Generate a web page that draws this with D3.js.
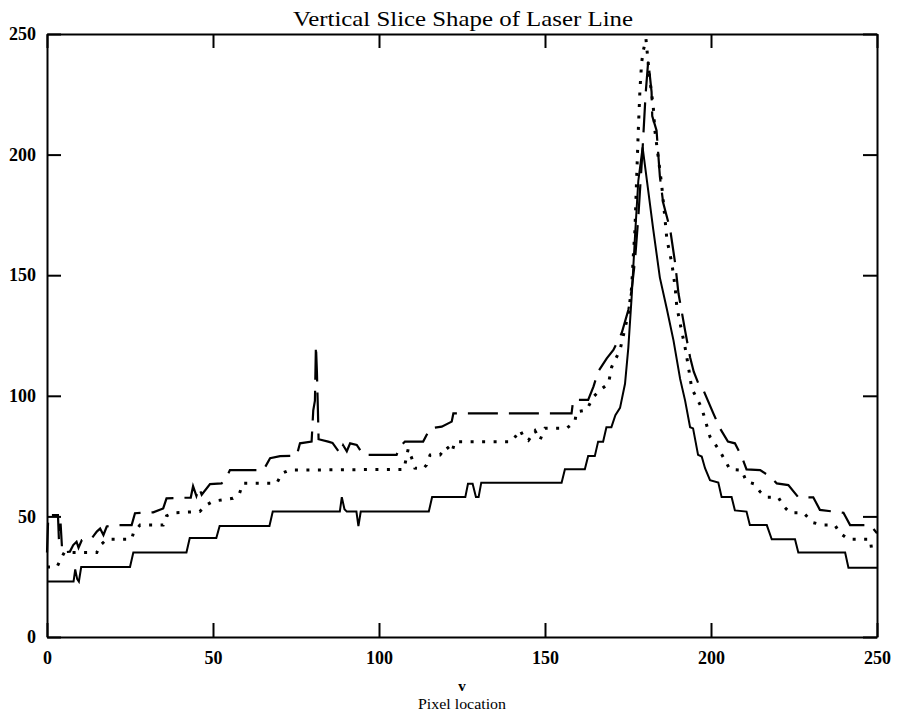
<!DOCTYPE html>
<html>
<head>
<meta charset="utf-8">
<script src="https://cdn.jsdelivr.net/npm/d3@7"></script>
<style>
  html, body { margin: 0; padding: 0; background: #fff; }
  svg { display: block; }
</style>
</head>
<body>
<svg id="chart" width="897" height="721"></svg>
<script>
// ---- data ----
const xTicks = [0, 50, 100, 150, 200, 250];
const yTicks = [0, 50, 100, 150, 200, 250];
const titleText = "Vertical Slice Shape of Laser Line";
const xVarText = "v";
const xLabelText = "Pixel location";

// solid trace: [pixel, intensity]
const solidSeries = [[0,23],[8,23],[8.5,28],[9.1,24],[9.6,23],[10.3,29],[25,29],[26,35],[42,35],[43,41],[51,41],[52,46],[67,46],[68,52],[88.2,52],[88.8,58],[89.6,53],[90.3,52],[93.2,52],[93.8,46],[94.5,52],[115,52],[116,58],[126,58],[126.8,63.5],[128.2,63.5],[129.2,58],[130,58],[130.8,64],[155,64],[156,69.5],[162,69.5],[163,75],[165,75],[166,81],[167.5,81],[168.5,87],[170,87],[171.2,92],[172.6,95],[174.1,105],[175.1,120],[176.1,141],[177.1,166],[178.1,189],[179.4,203],[181.1,185],[182.6,169],[184.6,149],[186.7,136],[188.7,123],[190.7,107],[192.2,98],[193.7,87],[194.6,86.5],[196.1,75.5],[197.2,74.8],[198.2,70],[199.7,65],[202.2,64],[203.2,58],[206.2,58],[207.2,52.5],[210.7,52],[211.7,46.4],[216.8,46.4],[218.3,40.5],[225.3,40.5],[226.3,35],[240.4,35],[241.4,28.7],[250,28.7]];

// dotted trace
const dottedSeries = [[0,29],[3,29],[4.4,33],[5.2,35],[15,35],[16,38],[18,40.5],[25.5,40.5],[26,43],[28,46.4],[35,46.4],[36,50.2],[38,51.5],[46,52],[48,54.7],[50,56.3],[56,57.5],[58,59.6],[59,63.7],[69.2,63.7],[70.7,67.8],[73,69.2],[107.5,69.5],[108.8,78],[109.9,74],[110.8,70],[113.3,69.7],[114.3,71.3],[115.4,75.5],[118.4,75.5],[120.4,79],[121.9,76.5],[122.9,81],[140,81],[142.5,85.8],[143.5,83],[145,81.5],[147,85.5],[148.5,81.7],[150,86.5],[156.5,86.5],[159,89.3],[159.5,93.4],[162.5,94.1],[164.6,99.6],[166.6,102.4],[169.1,105],[170.1,112],[172.6,119],[175.1,134],[176.1,145],[176.6,158],[177.1,169],[177.6,190],[178.1,210],[178.6,227],[179.1,238],[179.6,243],[180.4,248],[181.5,232],[182.6,220],[183.1,210],[184.1,199],[185.1,188],[186.1,174],[186.7,165],[188.2,155],[189.2,145],[189.7,137],[190.7,130],[192.2,120],[193.2,112],[194.2,103],[197.2,95],[199.7,83],[202.7,77],[205.7,69.5],[209.2,69.2],[210.7,64.4],[213,63.5],[214.8,60.2],[216.8,57.9],[220.3,57.9],[221.8,54.3],[223.8,51.5],[227.8,51.5],[230.8,47.4],[233.8,46.4],[237.3,46.4],[238.9,43],[241.4,40.5],[248,40.5],[248.4,36],[250,35]];

// dashed trace
const dashedSeries = [[0,35],[0.4,50.5],[3.3,50.5],[3.6,40],[4.1,47],[4.6,35],[6.9,35.4],[7.9,38.1],[8.9,39.5],[9.5,37],[10.5,40.2],[13.5,41],[15,43.7],[16,45],[17,42.3],[18,45.8],[20.5,46.4],[25.5,46.4],[26.5,51.3],[32,51.7],[35,53.3],[36,57.5],[43.3,57.8],[44,62.5],[45,58.5],[45.8,62],[46.6,59],[49.1,63.4],[52.6,63.7],[54,66],[55.1,69.2],[65.2,69.2],[67.2,74.1],[70.2,75],[75.2,75.2],[76.2,80.3],[79.7,81],[80.2,94],[80.7,98],[81,121],[81.3,110],[81.6,94],[81.8,82],[84.7,81],[86,80.5],[88.3,76],[89.2,79.5],[90.3,77],[91.3,80.3],[93.3,79.6],[95.3,75.5],[105.3,75.5],[106.3,79],[107.8,81],[113.3,81],[115.4,86.5],[118.9,87.2],[121.9,89.3],[122.4,92.7],[158,92.7],[158.5,98.3],[163,98.3],[164.6,103.8],[166,110],[168.6,115.5],[170.6,119],[173.1,126],[175.1,135.6],[176.1,144],[177.1,156],[178.1,174],[179.3,200],[180.3,225],[181.1,239],[182.1,226],[182.3,216],[183.6,210],[184.6,191],[185.6,180],[187.7,169],[189.2,155],[190.2,142.5],[192.2,127],[193.7,116],[194.8,110],[196.5,104],[197.7,102.4],[200.7,92.7],[202.7,86.5],[205.1,81],[207.2,80.3],[209.2,75],[210.7,69.5],[214.8,69.2],[217.8,66.5],[219.8,63.7],[223.3,63],[226.3,57.9],[230.8,57.9],[232.8,52.7],[239.9,51.5],[241.9,46.4],[248,46.4],[250,43]];

// ---- layout ----
const plot = { left: 47, right: 877, top: 34, bottom: 637 };
const svg = d3.select("#chart");

const x = d3.scaleLinear().domain([0, 250]).range([plot.left, plot.right]);
const y = d3.scaleLinear().domain([0, 250]).range([plot.bottom, plot.top]);

const serif = "'Liberation Serif', 'Times New Roman', serif";

// lines
const line = d3.line().x(d => x(d[0])).y(d => y(d[1]));

svg.append("path").datum(solidSeries)
  .attr("d", line).attr("fill", "none").attr("stroke", "#000")
  .attr("stroke-width", 2).attr("stroke-linejoin", "miter");

svg.append("path").datum(dottedSeries)
  .attr("d", line).attr("fill", "none").attr("stroke", "#000")
  .attr("stroke-width", 3).attr("stroke-dasharray", "3,8.5");

svg.append("path").datum(dashedSeries)
  .attr("d", line).attr("fill", "none").attr("stroke", "#000")
  .attr("stroke-width", 2.2).attr("stroke-dasharray", "30,11");

// axes (inner ticks on all four sides)
const tickLen = 14;
const gB = svg.append("g").attr("transform", `translate(0,${plot.bottom})`)
  .call(d3.axisBottom(x).tickValues(xTicks).tickSizeInner(-tickLen).tickSizeOuter(0).tickPadding(14));
const gL = svg.append("g").attr("transform", `translate(${plot.left},0)`)
  .call(d3.axisLeft(y).tickValues(yTicks).tickSizeInner(-tickLen).tickSizeOuter(0).tickPadding(11));
const gT = svg.append("g").attr("transform", `translate(0,${plot.top})`)
  .call(d3.axisTop(x).tickValues(xTicks).tickSizeInner(-tickLen).tickSizeOuter(0).tickFormat(""));
const gR = svg.append("g").attr("transform", `translate(${plot.right},0)`)
  .call(d3.axisRight(y).tickValues(yTicks).tickSizeInner(-tickLen).tickSizeOuter(0).tickFormat(""));

[gB, gL, gT, gR].forEach(g => {
  g.select(".domain").attr("stroke", "#000").attr("stroke-width", 2);
  g.selectAll(".tick line").attr("stroke", "#000").attr("stroke-width", 2);
  g.selectAll(".tick text")
    .attr("fill", "#000")
    .style("font-family", serif)
    .style("font-size", "18px")
    .style("font-weight", "bold");
});

// title
svg.append("text")
  .attr("x", 463).attr("y", 26)
  .attr("text-anchor", "middle")
  .attr("textLength", 340).attr("lengthAdjust", "spacingAndGlyphs")
  .style("font-family", serif).style("font-size", "21px")
  .attr("fill", "#000")
  .text(titleText);

// x-axis labels
svg.append("text")
  .attr("x", 462).attr("y", 691)
  .attr("text-anchor", "middle")
  .style("font-family", serif).style("font-size", "15px").style("font-weight", "bold")
  .attr("fill", "#000")
  .text(xVarText);

svg.append("text")
  .attr("x", 462).attr("y", 709)
  .attr("text-anchor", "middle")
  .attr("textLength", 88).attr("lengthAdjust", "spacingAndGlyphs")
  .style("font-family", serif).style("font-size", "15px")
  .attr("fill", "#000")
  .text(xLabelText);
</script>
</body>
</html>
